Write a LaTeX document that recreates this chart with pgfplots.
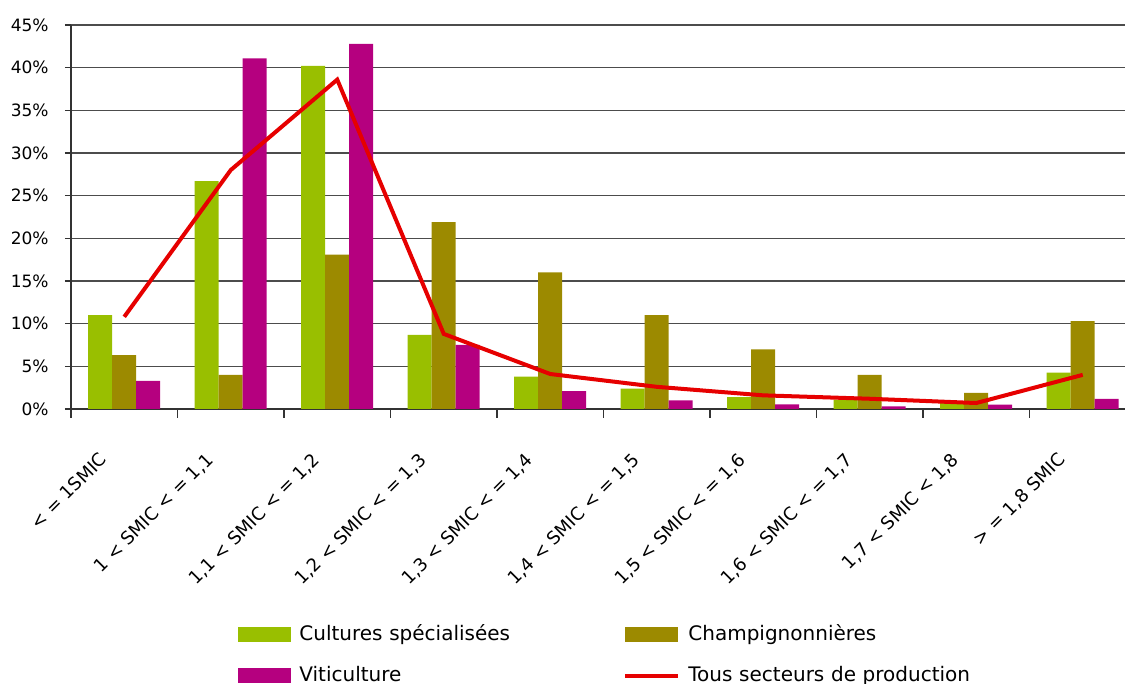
\documentclass[border=0pt]{standalone}
\usepackage{fontspec}
\setmainfont{DejaVu Sans}
\usepackage{pgfplots}
\pgfplotsset{compat=1.18}
\definecolor{cgreen}{HTML}{99BF00}
\definecolor{colive}{HTML}{9C8A00}
\definecolor{cmag}{HTML}{B5007F}
\definecolor{cred}{HTML}{E60000}
\pgfplotsset{
  barleg/.style={legend image code/.code={\fill[##1] (0pt,-3.75pt) rectangle (26.5pt,3.75pt);}},
  lineleg/.style={legend image code/.code={\draw[##1] (0pt,0pt) -- (26.5pt,0pt);}},
}
\begin{document}
\begin{tikzpicture}
\begin{axis}[
  at={(0,0)}, anchor=south west, scale only axis,
  width=527pt, height=192pt,
  xmin=-0.5, xmax=9.397, ymin=0, ymax=45,
  axis x line=bottom, axis y line=left,
  axis line style={-, draw=black!80, line width=0.6pt},
  ytick={0,5,...,45}, ymajorgrids,
  major grid style={draw=black!70, line width=0.6pt},
  /pgf/number format/assume math mode=true,
  yticklabel={\pgfmathprintnumber{\tick}\%},
  yticklabel style={font=\fontsize{8.5}{10}\selectfont, inner sep=0pt, anchor=east, xshift=-8pt},
  tick align=outside, major tick length=3pt,
  ytick style={draw=black!80, line width=0.6pt},
  xtick={0,...,9},
  major x tick style={draw=none},
  minor xtick={-0.5,0.5,...,8.5},
  minor tick length=4.5pt,
  minor x tick style={draw=black!80, line width=0.6pt},
  xticklabels={{< = 1SMIC},{1 < SMIC < = 1,1},{1,1 < SMIC < = 1,2},{1,2 < SMIC < = 1,3},{1,3 < SMIC < = 1,4},{1,4 < SMIC < = 1,5},{1,5 < SMIC < = 1,6},{1,6 < SMIC < = 1,7},{1,7 < SMIC < 1,8},{> = 1,8 SMIC}},
  xticklabel style={font=\fontsize{9}{11}\selectfont, inner sep=0pt, xshift=-13pt, yshift=-18pt, rotate=45, anchor=north east},
  legend columns=2,
  legend cell align=left,
  legend style={at={(axis description cs:0.15844,-0.5612)}, anchor=north west, draw=none, fill=none, inner sep=0pt, row sep=10.5pt, column sep=0pt, font=\fontsize{10}{12}\selectfont,
    nodes={inner xsep=4pt, inner ysep=0pt, text width=158pt, text height=8pt, text depth=2pt, align=left}},
]
\addplot[ybar, bar width=12pt, bar shift=-12pt, fill=cgreen, draw=none, barleg]
  coordinates {(0,11.0) (1,26.7) (2,40.2) (3,8.7) (4,3.8) (5,2.4) (6,1.4) (7,1.1) (8,0.8) (9,4.25)};
\addlegendentry{Cultures spécialisées}
\addplot[ybar, bar width=12pt, bar shift=0pt, fill=colive, draw=none, barleg]
  coordinates {(0,6.3) (1,4.0) (2,18.1) (3,21.9) (4,16.0) (5,11.0) (6,7.0) (7,4.0) (8,1.9) (9,10.3)};
\addlegendentry{Champignonnières}
\addplot[ybar, bar width=12pt, bar shift=12pt, fill=cmag, draw=none, barleg]
  coordinates {(0,3.3) (1,41.1) (2,42.8) (3,7.5) (4,2.1) (5,1.0) (6,0.55) (7,0.3) (8,0.5) (9,1.2)};
\addlegendentry{Viticulture}
\addplot[sharp plot, draw=cred, line width=2pt, mark=none, lineleg]
  coordinates {(0,10.8) (1,28.0) (2,38.6) (3,8.8) (4,4.1) (5,2.6) (6,1.6) (7,1.2) (8,0.7) (9,4.0)};
\addlegendentry{Tous secteurs de production}
\end{axis}
\pgfresetboundingbox
\useasboundingbox (-35.5pt,-137.5pt) rectangle (527pt,204.5pt);
\end{tikzpicture}
\end{document}
